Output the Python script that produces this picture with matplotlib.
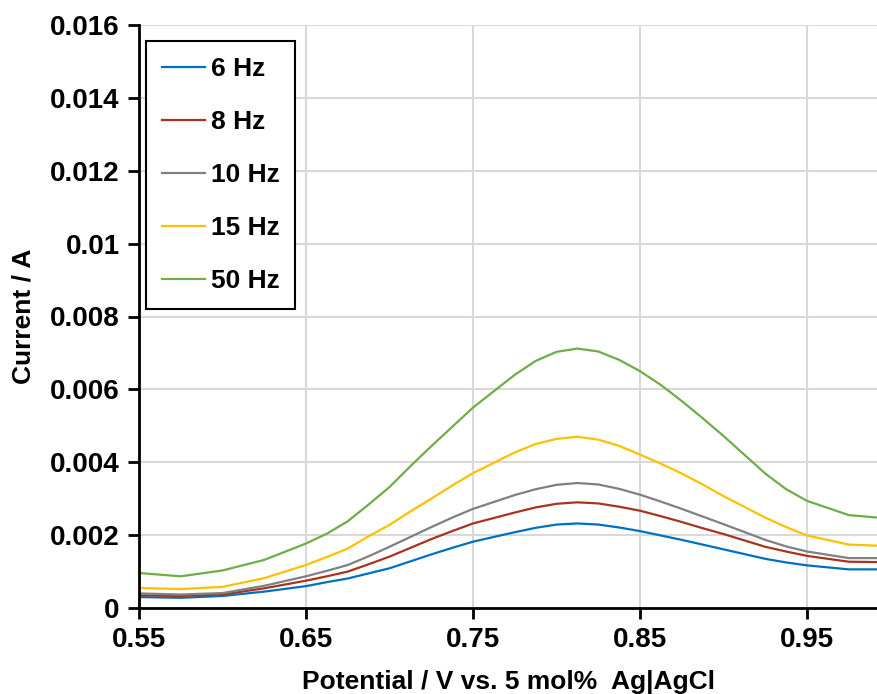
import matplotlib
matplotlib.use("Agg")
import matplotlib.pyplot as plt

plt.rcParams['font.family'] = ['Liberation Sans', 'DejaVu Sans']
plt.rcParams['font.weight'] = 'bold'

potential = [0.55, 0.575, 0.60, 0.625, 0.65, 0.6625, 0.675, 0.6875, 0.70, 0.7125,
             0.725, 0.7375, 0.75, 0.775, 0.7875, 0.80, 0.8125, 0.825, 0.8375, 0.85,
             0.8625, 0.875, 0.8875, 0.90, 0.925, 0.9375, 0.95, 0.975, 0.9925]

i_6hz = [0.00030, 0.00028, 0.00033, 0.00045, 0.00060, 0.00071, 0.00081, 0.00095, 0.00109, 0.00128,
         0.00147, 0.00165, 0.00182, 0.00208, 0.00220, 0.00229, 0.00232, 0.00229, 0.00221, 0.00211,
         0.00199, 0.00187, 0.00174, 0.00161, 0.00135, 0.00125, 0.00117, 0.00106, 0.00106]
i_8hz = [0.00035, 0.00033, 0.00037, 0.00054, 0.00075, 0.00087, 0.00100, 0.00120, 0.00141, 0.00165,
         0.00189, 0.00211, 0.00232, 0.00262, 0.00276, 0.00286, 0.00290, 0.00287, 0.00278, 0.00267,
         0.00252, 0.00236, 0.00219, 0.00203, 0.00168, 0.00155, 0.00143, 0.00127, 0.00126]
i_10hz = [0.00040, 0.00037, 0.00041, 0.00061, 0.00087, 0.00102, 0.00118, 0.00142, 0.00168, 0.00195,
          0.00222, 0.00248, 0.00272, 0.00310, 0.00326, 0.00338, 0.00343, 0.00339, 0.00327, 0.00311,
          0.00292, 0.00272, 0.00251, 0.00230, 0.00187, 0.00169, 0.00155, 0.00137, 0.00137]
i_15hz = [0.00055, 0.00052, 0.00058, 0.00082, 0.00118, 0.00140, 0.00163, 0.00197, 0.00228, 0.00265,
          0.00300, 0.00336, 0.00370, 0.00427, 0.00450, 0.00464, 0.00470, 0.00462, 0.00445, 0.00421,
          0.00396, 0.00369, 0.00339, 0.00307, 0.00248, 0.00222, 0.00199, 0.00174, 0.00171]
i_50hz = [0.00096, 0.00087, 0.00103, 0.00132, 0.00177, 0.00204, 0.00238, 0.00284, 0.00332, 0.00389,
          0.00444, 0.00497, 0.00550, 0.00640, 0.00678, 0.00703, 0.00712, 0.00704, 0.00681, 0.00650,
          0.00612, 0.00568, 0.00521, 0.00472, 0.00369, 0.00326, 0.00294, 0.00255, 0.00248]

labels = ['6 Hz', '8 Hz', '10 Hz', '15 Hz', '50 Hz']
colors = ['#0070C0', '#A9341B', '#808080', '#FFC000', '#70AD47']

x_ticks = [0.55, 0.65, 0.75, 0.85, 0.95]
y_ticks = [0, 0.002, 0.004, 0.006, 0.008, 0.01, 0.012, 0.014, 0.016]
y_tick_labels = ['0', '0.002', '0.004', '0.006', '0.008', '0.01', '0.012', '0.014', '0.016']

fig = plt.figure(figsize=(8.78, 6.94), dpi=100)
ax = fig.add_axes([139 / 878, 1 - 608 / 694, 1 - 139 / 878, (608 - 25) / 694])

for y, lab, c in zip([i_6hz, i_8hz, i_10hz, i_15hz, i_50hz], labels, colors):
    ax.plot(potential, y, color=c, lw=1.6, label=lab)

ax.set_xlim(0.55, 0.9925)
ax.set_ylim(0, 0.016)
ax.set_xticks(x_ticks)
ax.set_xticklabels(['%.2f' % v for v in x_ticks])
ax.set_yticks(y_ticks)
ax.set_yticklabels(y_tick_labels)
ax.tick_params(direction='out', length=8, width=2, labelsize=20, pad=6)

ax.grid(True, color='#d9d9d9', lw=1.5)
ax.set_axisbelow(True)
for s in ['top', 'right']:
    ax.spines[s].set_visible(False)
for s in ['left', 'bottom']:
    ax.spines[s].set_linewidth(2)

ax.set_xlabel('Potential / V vs. 5 mol%  Ag|AgCl', fontsize=19, fontweight='bold', labelpad=12)
ax.set_ylabel('Current / A', fontsize=19, fontweight='bold', labelpad=10)

leg = ax.legend(loc='upper left', bbox_to_anchor=(7 / 739, 1 - 16 / 583), fontsize=19,
                frameon=True, fancybox=False, framealpha=1, edgecolor='black',
                handlelength=1.65, handletextpad=0.2, labelspacing=1.1,
                borderpad=0.6, borderaxespad=0)
leg.get_frame().set_linewidth(1.5)

fig.savefig('out.png', dpi=100)
